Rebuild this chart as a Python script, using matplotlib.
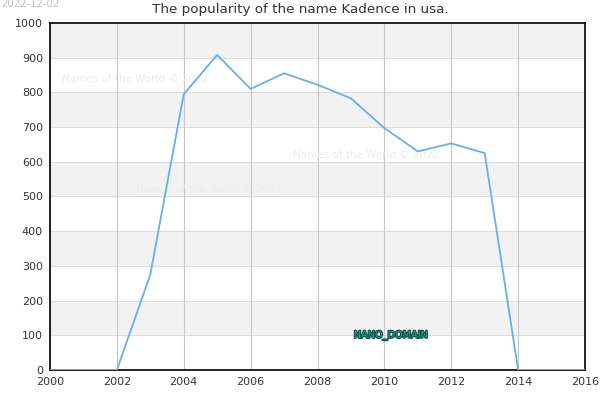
import numpy as np
import matplotlib
matplotlib.use('Agg')
import matplotlib.pyplot as plt
import matplotlib.patheffects as pe

years = [2000, 2001, 2002, 2003, 2004, 2005, 2006, 2007, 2008,
         2009, 2010, 2011, 2012, 2013, 2014, 2015, 2016]
counts = [0, 0, 0, 275, 795, 908, 810, 855, 822,
          783, 697, 630, 653, 625, 0, 0, 0]
x_ticks = list(range(2000, 2017, 2))
y_ticks = list(range(0, 1001, 100))
watermarks = [(0.022, 0.83), (0.16, 0.51), (0.455, 0.61)]

fig = plt.figure(figsize=(6, 4), dpi=100)
ax = fig.add_axes([50 / 600, 30 / 400, 535 / 600, 347 / 400])

# alternating bands
for lo in range(100, 1000, 200):
    ax.axhspan(lo, lo + 100, color='#f2f2f2', zorder=0, lw=0)
for y in y_ticks:
    ax.axhline(y, color='#dddddd', lw=0.8, zorder=1)
for x in x_ticks:
    ax.axvline(x, color='#c8c8c8', lw=0.8, zorder=1)

ax.plot(years, counts, color='#6aaef0', lw=1.3, zorder=3)

ax.set_xlim(2000, 2016)
ax.set_ylim(0, 1000)
ax.set_xticks(x_ticks)
ax.set_yticks(y_ticks)
ax.tick_params(length=0, labelsize=8, colors='#333333', pad=5)
for s in ax.spines.values():
    s.set_color('black')
    s.set_linewidth(1.2)

for wx, wy in watermarks:
    ax.text(wx, wy, 'Names of the World \u00a9 2022', transform=ax.transAxes,
            fontsize=7.5, color='#ebebf7', zorder=2)

ax.text(2010.2, 100, 'NANO_DOMAIN', ha='center', va='center', fontsize=7,
        color='#2a9d8f', zorder=4,
        path_effects=[pe.withStroke(linewidth=1.5, foreground='#0b4d47')])

fig.text(300 / 600, 1 - 10 / 400, 'The popularity of the name Kadence in usa.',
         ha='center', va='center', fontsize=9.7, color='#333333')
fig.text(1 / 600, 1 - 4 / 400, '2022-12-02', ha='left', va='center',
         fontsize=7.3, color='#c0c0c0')

fig.savefig('out.png', dpi=100)
